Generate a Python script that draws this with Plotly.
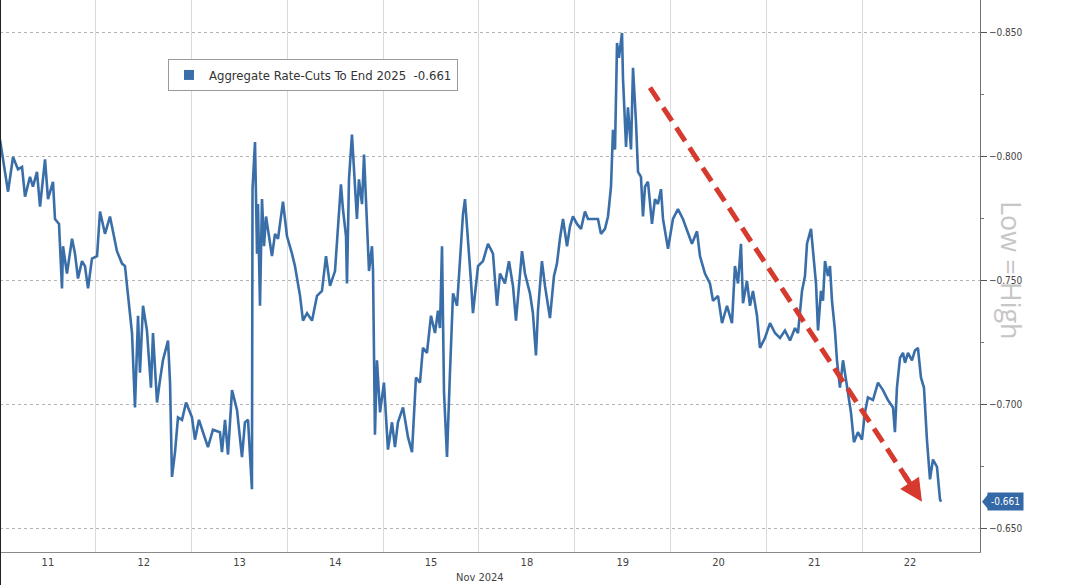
import plotly.graph_objects as go

# ---------------- data ----------------
day_labels = ["11", "12", "13", "14", "15", "18", "19", "20", "21", "22"]
month_label = "Nov 2024"
series_name = "Aggregate Rate-Cuts To End 2025"
last_value = -0.661
y_tick_values = [-0.85, -0.80, -0.75, -0.70, -0.65]
y_minor_values = [-0.825, -0.775, -0.725, -0.675]

# time in trading-session units (0 = start of Nov 11 session, 1 = Nov 12, ...)
t_days = [
    0.000, 0.031, 0.084, 0.136, 0.188, 0.230, 0.261, 0.313, 0.344, 0.386,
    0.418, 0.470, 0.501, 0.553, 0.574, 0.616, 0.647, 0.658, 0.699, 0.752,
    0.783, 0.814, 0.856, 0.887, 0.919, 0.960, 1.013, 1.044, 1.096, 1.148,
    1.221, 1.274, 1.305, 1.326, 1.378, 1.409, 1.441, 1.461, 1.493, 1.534,
    1.576, 1.597, 1.639, 1.670, 1.701, 1.754, 1.775, 1.795, 1.827, 1.858,
    1.900, 1.942, 2.004, 2.035, 2.077, 2.119, 2.171, 2.223, 2.296, 2.317,
    2.349, 2.380, 2.422, 2.474, 2.526, 2.557, 2.589, 2.630, 2.636, 2.662,
    2.683, 2.693, 2.714, 2.735, 2.756, 2.777, 2.818, 2.839, 2.871, 2.902,
    2.954, 2.996, 3.048, 3.079, 3.132, 3.163, 3.205, 3.257, 3.309, 3.361,
    3.403, 3.445, 3.497, 3.528, 3.559, 3.580, 3.612, 3.622, 3.643, 3.674,
    3.695, 3.726, 3.747, 3.779, 3.800, 3.821, 3.852, 3.883, 3.894, 3.914,
    3.935, 3.967, 4.008, 4.050, 4.092, 4.123, 4.154, 4.207, 4.259, 4.301,
    4.342, 4.384, 4.415, 4.457, 4.499, 4.541, 4.572, 4.593, 4.614, 4.635,
    4.666, 4.697, 4.729, 4.771, 4.802, 4.833, 4.854, 4.885, 4.916, 4.937,
    4.990, 5.042, 5.094, 5.146, 5.188, 5.219, 5.271, 5.313, 5.355, 5.386,
    5.449, 5.480, 5.532, 5.563, 5.595, 5.616, 5.657, 5.689, 5.741, 5.783,
    5.814, 5.845, 5.877, 5.919, 5.950, 5.981, 6.023, 6.065, 6.106, 6.138,
    6.190, 6.242, 6.273, 6.315, 6.347, 6.378, 6.399, 6.420, 6.441, 6.461,
    6.493, 6.503, 6.535, 6.555, 6.587, 6.608, 6.639, 6.660, 6.691, 6.712,
    6.733, 6.764, 6.806, 6.837, 6.868, 6.900, 6.921, 6.973, 7.025, 7.077,
    7.129, 7.182, 7.223, 7.276, 7.307, 7.359, 7.411, 7.443, 7.495, 7.537,
    7.589, 7.641, 7.672, 7.704, 7.735, 7.756, 7.797, 7.829, 7.860, 7.902,
    7.933, 7.985, 8.038, 8.090, 8.142, 8.194, 8.247, 8.299, 8.330, 8.372,
    8.403, 8.424, 8.466, 8.487, 8.518, 8.539, 8.570, 8.591, 8.612, 8.643,
    8.664, 8.685, 8.716, 8.737, 8.768, 8.800, 8.841, 8.883, 8.914, 8.956,
    8.998, 9.029, 9.060, 9.113, 9.165, 9.217, 9.269, 9.322, 9.342, 9.363,
    9.395, 9.426, 9.447, 9.478, 9.520, 9.551, 9.582, 9.614, 9.645, 9.676,
    9.708, 9.739, 9.781, 9.812, 9.823,
]

rate_cuts = [
    -0.807, -0.799, -0.786, -0.800, -0.795, -0.796, -0.784, -0.792, -0.788, -0.794,
    -0.780, -0.799, -0.783, -0.790, -0.775, -0.773, -0.747, -0.764, -0.753, -0.767,
    -0.761, -0.751, -0.758, -0.756, -0.747, -0.759, -0.760, -0.778, -0.769, -0.776,
    -0.762, -0.757, -0.756, -0.748, -0.729, -0.699, -0.736, -0.713, -0.740, -0.730,
    -0.707, -0.729, -0.701, -0.710, -0.718, -0.726, -0.709, -0.671, -0.681, -0.695,
    -0.694, -0.701, -0.695, -0.686, -0.694, -0.689, -0.683, -0.690, -0.689, -0.681,
    -0.694, -0.680, -0.706, -0.698, -0.679, -0.693, -0.694, -0.666, -0.787, -0.806,
    -0.761, -0.781, -0.740, -0.783, -0.764, -0.776, -0.765, -0.760, -0.769, -0.767,
    -0.782, -0.768, -0.761, -0.756, -0.744, -0.734, -0.737, -0.734, -0.744, -0.746,
    -0.760, -0.748, -0.754, -0.771, -0.789, -0.779, -0.768, -0.749, -0.791, -0.809,
    -0.796, -0.775, -0.791, -0.781, -0.801, -0.781, -0.754, -0.764, -0.754, -0.688,
    -0.718, -0.697, -0.709, -0.682, -0.693, -0.683, -0.693, -0.699, -0.687, -0.681,
    -0.711, -0.709, -0.723, -0.721, -0.736, -0.729, -0.738, -0.731, -0.764, -0.705,
    -0.679, -0.713, -0.745, -0.740, -0.761, -0.777, -0.783, -0.768, -0.750, -0.737,
    -0.756, -0.758, -0.765, -0.761, -0.740, -0.753, -0.749, -0.758, -0.748, -0.734,
    -0.762, -0.753, -0.745, -0.737, -0.720, -0.738, -0.758, -0.748, -0.735, -0.752,
    -0.757, -0.767, -0.775, -0.764, -0.772, -0.776, -0.773, -0.771, -0.778, -0.775,
    -0.775, -0.775, -0.769, -0.771, -0.776, -0.788, -0.811, -0.803, -0.846, -0.840,
    -0.850, -0.832, -0.804, -0.820, -0.803, -0.836, -0.814, -0.794, -0.792, -0.776,
    -0.788, -0.790, -0.773, -0.783, -0.781, -0.787, -0.775, -0.763, -0.775, -0.779,
    -0.775, -0.769, -0.765, -0.770, -0.760, -0.753, -0.749, -0.742, -0.744, -0.733,
    -0.740, -0.733, -0.756, -0.749, -0.765, -0.741, -0.750, -0.740, -0.746, -0.736,
    -0.723, -0.727, -0.733, -0.729, -0.727, -0.730, -0.726, -0.731, -0.729, -0.746,
    -0.752, -0.765, -0.771, -0.762, -0.749, -0.730, -0.746, -0.742, -0.758, -0.752,
    -0.756, -0.742, -0.730, -0.718, -0.707, -0.718, -0.707, -0.697, -0.685, -0.689,
    -0.686, -0.697, -0.703, -0.702, -0.709, -0.706, -0.702, -0.699, -0.689, -0.707,
    -0.719, -0.721, -0.717, -0.721, -0.718, -0.722, -0.723, -0.711, -0.707, -0.686,
    -0.670, -0.678, -0.675, -0.662, -0.661,
]

# trend-arrow annotation (start, end) in data terms
trend_start = (6.785, -0.828)
trend_end = (9.624, -0.661)

# ---------------- styling ----------------
LINE_BLUE = "#3a6ea8"
RED = "#d63a2f"
NARROW = "Liberation Sans Narrow, Arial Narrow, DejaVu Sans Condensed, sans-serif"
N_DAYS = len(day_labels)
X_MAX = 10.23
Y_RANGE = [-0.6407, -0.8633]
PW, PH = 980, 552  # plot area size in px

fig = go.Figure()

fig.add_trace(go.Scatter(
    x=t_days, y=rate_cuts, mode="lines",
    line=dict(color=LINE_BLUE, width=2.6),
    showlegend=False, hoverinfo="skip",
))

# legend entry (square swatch like the original)
fig.add_trace(go.Scatter(
    x=[None], y=[None], mode="markers",
    marker=dict(symbol="square", size=10, color=LINE_BLUE),
    name=f"{series_name}  {last_value:.3f}",
    showlegend=True,
))

# dashed trend line
sx, sy = trend_start
ex, ey = trend_end
mx = sx + (ex - sx) * 0.95
my = sy + (ey - sy) * 0.95
fig.add_shape(type="line", xref="x", yref="y",
              x0=sx, y0=sy, x1=mx, y1=my,
              line=dict(color=RED, width=5, dash="16px,8px"))
fig.add_annotation(x=ex, y=ey, ax=sx + (ex - sx) * 0.93, ay=sy + (ey - sy) * 0.93,
                   xref="x", yref="y", axref="x", ayref="y",
                   text="", showarrow=True, arrowhead=2, arrowsize=0.9,
                   arrowwidth=5, arrowcolor=RED, standoff=0)

# last value tag on the right axis
fig.add_annotation(xref="paper", yref="y", x=1 + 7 / PW, y=last_value,
                   xanchor="left", yanchor="middle",
                   text=f"{last_value:.3f}", showarrow=False,
                   font=dict(family=NARROW, size=10, color="white"),
                   bgcolor="#3568a6", borderpad=3)
fig.add_shape(type="path", xref="paper", yref="y",
              path=f"M {1 + 2/PW},{last_value} L {1 + 8/PW},{last_value + 0.003} "
                   f"L {1 + 8/PW},{last_value - 0.003} Z",
              fillcolor="#3568a6", line=dict(width=0))

# "Low = High" label
fig.add_annotation(xref="paper", yref="paper", x=1 + 32 / PW, y=(PH - 270) / PH,
                   xanchor="center", yanchor="middle",
                   text="Low = High", textangle=90, showarrow=False,
                   font=dict(family="Open Sans, DejaVu Sans, sans-serif", size=27,
                             color="#c6c6c6"))

# month label under the axis
fig.add_annotation(xref="paper", yref="paper", x=480 / PW, y=-25 / PH,
                   xanchor="center", yanchor="middle",
                   text=month_label, showarrow=False,
                   font=dict(family=NARROW, size=11, color="#444"))

# image left border
fig.add_shape(type="line", xref="paper", yref="paper", x0=0, x1=0, y0=-0.1, y1=1.05,
              line=dict(color="#222", width=2))

fig.update_layout(
    width=1080, height=585,
    margin=dict(l=0, r=1080 - PW, t=0, b=585 - PH),
    plot_bgcolor="white", paper_bgcolor="white",
    font=dict(family=NARROW, size=11, color="#444"),
    legend=dict(x=168 / PW, y=(PH - 59) / PH, xanchor="left", yanchor="top",
                bgcolor="white", bordercolor="#9a9a9a", borderwidth=1,
                font=dict(family=NARROW, size=13, color="#333"),
                itemwidth=30, tracegroupgap=0),
    xaxis=dict(
        range=[0, X_MAX],
        tickmode="array",
        tickvals=[i + 0.5 for i in range(N_DAYS)],
        ticktext=day_labels,
        ticks="", showgrid=False, zeroline=False,
        showline=True, linecolor="#8a8a8a", linewidth=1,
        tickfont=dict(family=NARROW, size=11, color="#444"),
        minor=dict(tickmode="array", tickvals=list(range(1, N_DAYS)),
                   showgrid=True, gridcolor="#dadada", gridwidth=1, ticks=""),
    ),
    yaxis=dict(
        side="right",
        range=Y_RANGE,
        tickmode="array", tickvals=y_tick_values, tickformat=".3f",
        ticks="outside", ticklen=6, tickcolor="#555",
        showgrid=True, gridcolor="#b4b4b4", griddash="dot", gridwidth=1,
        zeroline=False,
        showline=True, linecolor="#707070", linewidth=1,
        tickfont=dict(family=NARROW, size=10, color="#444"),
        minor=dict(tickmode="array", tickvals=y_minor_values,
                   ticks="outside", ticklen=3, tickcolor="#777", showgrid=False),
    ),
)

fig.write_html("out.html",
               config={"displayModeBar": False},
               post_script="document.body.style.margin='0';document.body.style.overflow='hidden';")
